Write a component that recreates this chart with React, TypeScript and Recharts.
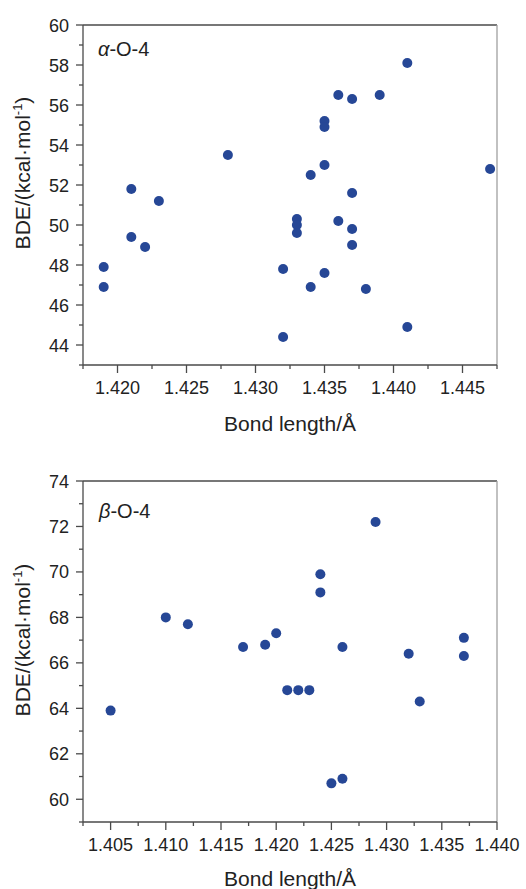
import { ScatterChart, Scatter, XAxis, YAxis, ReferenceLine } from "recharts";

// α-O-4 : bond length (Å) vs BDE (kcal/mol)
const alphaLength = [
  1.441, 1.436, 1.437, 1.439, 1.435, 1.435, 1.428, 1.434, 1.435, 1.447,
  1.437, 1.421, 1.423, 1.421, 1.422, 1.419, 1.419, 1.433, 1.433, 1.433,
  1.436, 1.437, 1.437, 1.432, 1.435, 1.434, 1.438, 1.432, 1.441,
];
const alphaBde = [
  58.1, 56.5, 56.3, 56.5, 55.2, 54.9, 53.5, 52.5, 53.0, 52.8,
  51.6, 51.8, 51.2, 49.4, 48.9, 47.9, 46.9, 50.3, 50.0, 49.6,
  50.2, 49.8, 49.0, 47.8, 47.6, 46.9, 46.8, 44.4, 44.9,
];

// β-O-4
const betaLength = [
  1.429, 1.424, 1.424, 1.41, 1.412, 1.417, 1.419, 1.42, 1.426, 1.432,
  1.437, 1.437, 1.421, 1.422, 1.423, 1.405, 1.433, 1.425, 1.426,
];
const betaBde = [
  72.2, 69.9, 69.1, 68.0, 67.7, 66.7, 66.8, 67.3, 66.7, 66.4,
  67.1, 66.3, 64.8, 64.8, 64.8, 63.9, 64.3, 60.7, 60.9,
];

const alphaXTicks = [
  1.4175, 1.42, 1.4225, 1.425, 1.4275, 1.43, 1.4325, 1.435, 1.4375, 1.44,
  1.4425, 1.445, 1.4475,
];
const alphaYTicks = [43, 44, 45, 46, 47, 48, 49, 50, 51, 52, 53, 54, 55, 56, 57, 58, 59, 60];
const betaXTicks = [
  1.4025, 1.405, 1.4075, 1.41, 1.4125, 1.415, 1.4175, 1.42, 1.4225, 1.425,
  1.4275, 1.43, 1.4325, 1.435, 1.4375, 1.44,
];
const betaYTicks = [59, 60, 61, 62, 63, 64, 65, 66, 67, 68, 69, 70, 71, 72, 73, 74];

const FONT = "'Liberation Sans', Arial, sans-serif";
const DOT = "#264796";
const AXIS = "#4a4a4a";

const isMajorX = (v: number) => Math.abs(v * 200 - Math.round(v * 200)) < 1e-6;
const isMajorY = (v: number) => Math.round(v) % 2 === 0;

function XTick(props: any) {
  const { x, y, payload } = props;
  const major = isMajorX(payload.value);
  return (
    <g>
      <line x1={x} y1={y} x2={x} y2={y + (major ? 8 : 4)} stroke={AXIS} strokeWidth={1.3} />
      {major && (
        <text x={x} y={y + 29} textAnchor="middle" fontSize={18} fontFamily={FONT} fill="#222">
          {payload.value.toFixed(3)}
        </text>
      )}
    </g>
  );
}

function YTick(props: any) {
  const { x, y, payload } = props;
  const major = isMajorY(payload.value);
  return (
    <g>
      <line x1={x - (major ? 7 : 4)} y1={y} x2={x} y2={y} stroke={AXIS} strokeWidth={1.3} />
      {major && (
        <text x={x - 14} y={y + 6.5} textAnchor="end" fontSize={18} fontFamily={FONT} fill="#222">
          {payload.value}
        </text>
      )}
    </g>
  );
}

const Dot = (props: any) => <circle cx={props.cx} cy={props.cy} r={5} fill={DOT} />;

function Panel(props: {
  xs: number[];
  ys: number[];
  xTicks: number[];
  yTicks: number[];
  height: number;
  top: number;
  bottom: number;
}) {
  const { xs, ys, xTicks, yTicks, height, top, bottom } = props;
  const data = xs.map((x, i) => ({ x, y: ys[i] }));
  const xDomain = [xTicks[0], xTicks[xTicks.length - 1]];
  const yDomain = [yTicks[0], yTicks[yTicks.length - 1]];
  return (
    <ScatterChart width={526} height={height} margin={{ top, right: 29, bottom, left: 82 }}>
      <XAxis
        type="number"
        dataKey="x"
        domain={xDomain}
        ticks={xTicks}
        interval={0}
        height={1}
        tickSize={0}
        tickMargin={0}
        tickLine={false}
        tick={<XTick />}
        axisLine={{ stroke: AXIS, strokeWidth: 1.3 }}
        allowDataOverflow
      />
      <YAxis
        type="number"
        dataKey="y"
        domain={yDomain}
        ticks={yTicks}
        interval={0}
        width={1}
        tickSize={0}
        tickMargin={0}
        tickLine={false}
        tick={<YTick />}
        axisLine={{ stroke: AXIS, strokeWidth: 1.3 }}
        allowDataOverflow
      />
      <ReferenceLine y={yDomain[1]} stroke={AXIS} strokeWidth={1.3} />
      <ReferenceLine x={xDomain[1]} stroke="#a0a0a0" strokeWidth={1.3} />
      <Scatter data={data} fill={DOT} shape={<Dot />} isAnimationActive={false} />
    </ScatterChart>
  );
}

function YTitle({ cy }: { cy: number }) {
  return (
    <text
      transform={`translate(30, ${cy}) rotate(-90)`}
      textAnchor="middle"
      fontSize={21}
      fontFamily={FONT}
      fill="#222"
    >
      BDE/(kcal·mol
      <tspan dy={-8} fontSize={13}>-1</tspan>
      <tspan dy={8}>)</tspan>
    </text>
  );
}

export default function App() {
  return (
    <div style={{ position: "absolute", left: 0, top: 0, width: 526, height: 889, background: "#fff", overflow: "hidden" }}>
      <div style={{ position: "absolute", left: 0, top: 0 }}>
        <Panel xs={alphaLength} ys={alphaBde} xTicks={alphaXTicks} yTicks={alphaYTicks} height={440} top={25} bottom={74} />
      </div>
      <div style={{ position: "absolute", left: 0, top: 450 }}>
        <Panel xs={betaLength} ys={betaBde} xTicks={betaXTicks} yTicks={betaYTicks} height={439} top={31} bottom={66} />
      </div>
      <svg width={526} height={889} style={{ position: "absolute", left: 0, top: 0, pointerEvents: "none" }}>
        <YTitle cy={173} />
        <YTitle cy={640} />
        <text x={290} y={431} textAnchor="middle" fontSize={21} fontFamily={FONT} fill="#222">
          Bond length/Å
        </text>
        <text x={290} y={886} textAnchor="middle" fontSize={21} fontFamily={FONT} fill="#222">
          Bond length/Å
        </text>
        <text x={98} y={56} fontSize={20} fontFamily={FONT} fill="#222">
          <tspan fontStyle="italic">α</tspan>-O-4
        </text>
        <text x={99} y={518} fontSize={20} fontFamily={FONT} fill="#222">
          <tspan fontStyle="italic">β</tspan>-O-4
        </text>
      </svg>
    </div>
  );
}
